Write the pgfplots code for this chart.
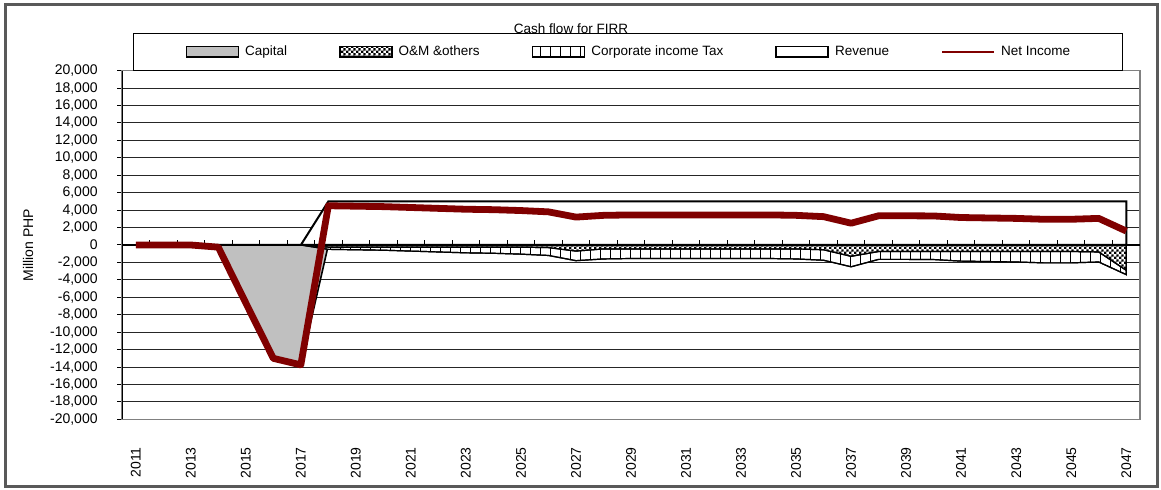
\documentclass[border=0pt]{standalone}
\usepackage{fontspec}
\setmainfont{Liberation Sans}
\usepackage{pgfplots}
\usepackage{pgfplotstable}
\pgfplotsset{compat=1.18}
\usetikzlibrary{patterns,patterns.meta}

\definecolor{netred}{RGB}{128,0,0}
\definecolor{capgray}{RGB}{192,192,192}

\pgfdeclarepatternformonly{finechecker}{\pgfpointorigin}{\pgfpoint{2.4pt}{2.4pt}}{\pgfpoint{2.4pt}{2.4pt}}{%
  \pgfpathrectangle{\pgfpointorigin}{\pgfpoint{1.2pt}{1.2pt}}%
  \pgfpathrectangle{\pgfpoint{1.2pt}{1.2pt}}{\pgfpoint{1.2pt}{1.2pt}}%
  \pgfusepath{fill}}

\pgfplotsset{
  boxlegend/.style={legend image code/.code={\draw[##1] (0pt,-2.6pt) rectangle (26pt,2.6pt);}},
  linelegend/.style={legend image code/.code={\draw[##1] (0pt,0pt) -- (26pt,0pt);}},
}

\pgfplotstableread{
year cap om cost rev ni
2011 0 0 0 0 0
2012 0 0 0 0 0
2013 0 0 0 0 0
2014 -250 0 0 0 -250
2015 -6650 0 0 0 -6650
2016 -13000 0 0 0 -13000
2017 -13750 0 0 0 -13750
2018 0 -250 -500 5000 4500
2019 0 -250 -550 5000 4450
2020 0 -250 -600 5000 4400
2021 0 -250 -700 5000 4300
2022 0 -250 -800 5000 4200
2023 0 -250 -900 5000 4100
2024 0 -250 -950 5000 4050
2025 0 -250 -1050 5000 3950
2026 0 -300 -1200 5000 3800
2027 0 -700 -1800 5000 3200
2028 0 -450 -1600 5000 3400
2029 0 -450 -1550 5000 3450
2030 0 -450 -1550 5000 3450
2031 0 -450 -1550 5000 3450
2032 0 -450 -1550 5000 3450
2033 0 -450 -1550 5000 3450
2034 0 -450 -1550 5000 3450
2035 0 -450 -1600 5000 3400
2036 0 -550 -1750 5000 3250
2037 0 -1300 -2500 5000 2500
2038 0 -750 -1650 5000 3350
2039 0 -750 -1650 5000 3350
2040 0 -750 -1670 5000 3330
2041 0 -750 -1850 5000 3150
2042 0 -750 -1900 5000 3100
2043 0 -750 -1950 5000 3050
2044 0 -750 -2050 5000 2950
2045 0 -750 -2050 5000 2950
2046 0 -800 -1950 5000 3050
2047 0 -2900 -3400 5000 1600
}\data

\begin{document}
\begin{tikzpicture}
\path[use as bounding box] (0pt,0pt) rectangle (580.5pt,245pt);
\draw[black!65, line width=1.5pt] (2.5pt,1.5pt) rectangle (578.5pt,242.5pt);
\node[anchor=base, inner sep=0pt, font=\fontsize{6.75}{8}\selectfont] at (285.5pt,228.3pt) {Cash flow for FIRR};
\begin{axis}[
  at={(61pt,35.3pt)}, anchor=south west,
  scale only axis, width=509pt, height=174.4pt,
  xmin=2010.5, xmax=2047.5, ymin=-20000, ymax=20000,
  no markers,
  scaled y ticks=false, scaled x ticks=false,
  xtick={2011,2013,...,2047},
  xticklabel={\pgfmathparse{int(\tick)}\pgfmathresult},
  xtick style={draw=none},
  xticklabel style={rotate=90, anchor=east, inner sep=0pt},
  xticklabel shift=11.3pt,
  ytick={-20000,-18000,...,20000},
  ytick pos=left,
  tick align=outside,
  major tick length=2.5pt,
  ytick style={black, line width=0.5pt},
  yticklabel style={anchor=east, inner sep=0pt},
  yticklabel shift=9.5pt,
  tick label style={font=\fontsize{7}{8}\selectfont},
  ymajorgrids,
  grid style={black!85, line width=0.5pt},
  axis line style={draw=black!50, line width=0.8pt},
  ylabel={Million PHP},
  ylabel style={at={(axis description cs:-0.0923,0.5)}, anchor=center, font=\fontsize{7}{8}\selectfont},
  legend columns=5,
  legend style={at={(axis description cs:0.0108,1.1078)}, anchor=north west,
    draw=black, line width=0.5pt, fill=white, inner xsep=26pt, inner ysep=6pt,
    font=\fontsize{6.75}{8}\selectfont,
    nodes={inner sep=0pt},
    /tikz/every odd column/.append style={column sep=3pt},
    /tikz/every even column/.append style={column sep=26pt}},
  legend cell align=left,
  /pgf/number format/.cd, 1000 sep={,}, assume math mode=true
]
% Revenue
\addplot[forget plot, draw=black, line width=1pt, fill=white] table[x=year,y=rev]{\data} \closedcycle;
% Capital
\addplot[forget plot, draw=black, line width=0.8pt, fill=capgray] table[x=year,y=cap]{\data} \closedcycle;
% Corporate income tax (stacked below O&M)
\addplot[forget plot, draw=black, line width=0.6pt, fill=white, postaction={pattern={Lines[angle=90,distance=5pt,line width=0.5pt]}}] table[x=year,y=cost]{\data} \closedcycle;
% O&M & others
\addplot[forget plot, draw=black, line width=0.6pt, fill=white, postaction={pattern=finechecker}] table[x=year,y=om]{\data} \closedcycle;
% zero axis with ticks
\draw[black, line width=0.8pt] (axis cs:2010.5,0) -- (axis cs:2047.5,0);
\pgfplotsinvokeforeach{2011,...,2046}{\draw[black, line width=0.5pt] (axis cs:#1.5,0) -- ++(0pt,2.5pt);}
\draw[black, line width=0.7pt] (rel axis cs:0,0) -- (rel axis cs:0,1);
% Net income
\addplot[forget plot, netred, line width=3.4pt, line join=round] table[x=year,y=ni]{\data};

\addlegendimage{boxlegend, draw=black, line width=0.8pt, fill=capgray}
\addlegendentry{Capital}
\addlegendimage{boxlegend, draw=black, line width=0.8pt, fill=white, postaction={pattern=finechecker}}
\addlegendentry{O\&M \&others}
\addlegendimage{boxlegend, draw=black, line width=0.8pt, fill=white, postaction={pattern={Lines[angle=90,distance=5pt,line width=0.5pt]}}}
\addlegendentry{Corporate income Tax}
\addlegendimage{boxlegend, draw=black, line width=0.8pt, fill=white}
\addlegendentry{Revenue}
\addlegendimage{linelegend, netred, line width=1pt}
\addlegendentry{Net Income}
\end{axis}
\end{tikzpicture}
\end{document}
